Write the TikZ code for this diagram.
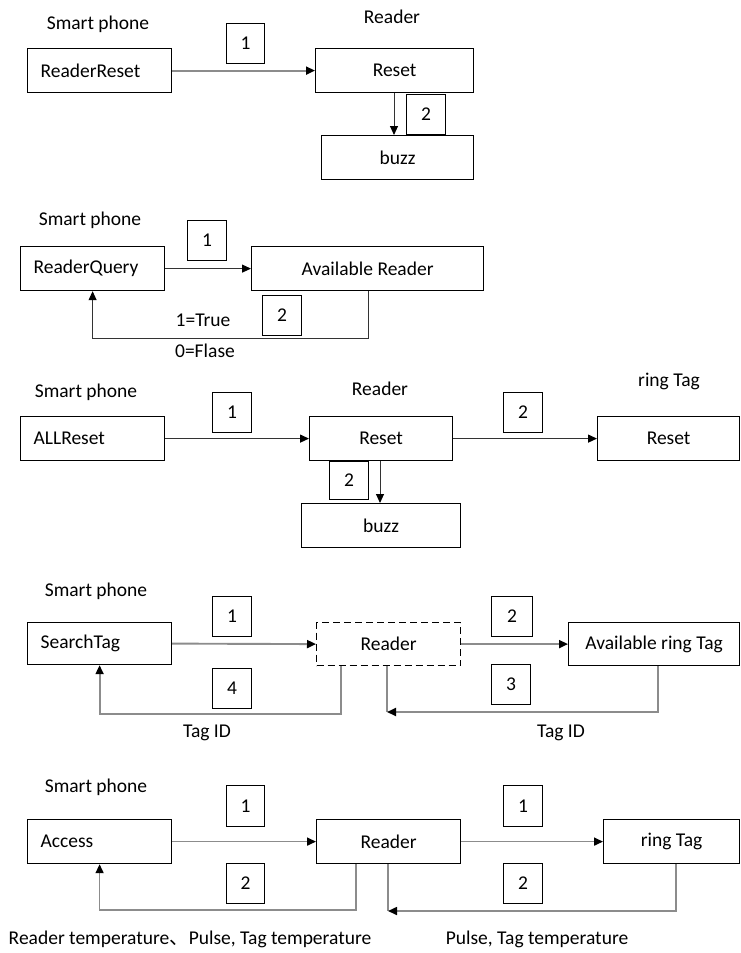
\documentclass[tikz,border=0pt]{standalone}
\usepackage{fontspec}
\setmainfont{Carlito}
\newfontfamily\cjkf{Noto Sans CJK SC}
\usetikzlibrary{arrows.meta}
\tikzset{
  base/.style={font=\fontsize{19.5}{22}\selectfont, text=black},
  box/.style={base, draw=black, line width=1.2pt, inner sep=0pt, minimum height=44pt, anchor=north west},
  lbox/.style={box, inner xsep=13pt, align=left},
  numbox/.style={base, draw=black, line width=1.2pt, inner sep=0pt, minimum width=39pt, minimum height=40pt, anchor=north west},
  lab/.style={base, inner sep=0pt},
  tip/.style={-{Triangle[length=9pt,width=8pt,color=black]}},
  gline/.style={draw=black!45, line width=1.9pt},
  dline/.style={draw=black!80, line width=1pt},
}
\begin{document}
\begin{tikzpicture}[x=1pt,y=-1pt]
\useasboundingbox[fill=white] (0,0) rectangle (740,953);

% ---------- Section 1 ----------
\node[lab] (sp1) at (98,24) {Smart phone};
\node[lab] (rl1) at (392,17) {Reader};
\node[lbox, text width=118pt] (rr1) at (27,48) {ReaderReset};
\node[box, minimum width=158pt] (rs1) at (315,48) {Reset};
\node[box, minimum width=152pt] (bz1) at (321,135) {buzz};
\node[numbox, minimum width=38pt] (n11) at (226,23) {1};
\node[numbox] (n12) at (406,94) {2};
\draw[gline, tip] (rr1.east) -- (rs1.west);
\draw[dline, tip] ([xshift=79pt]rs1.south west) -- ([xshift=73pt]bz1.north west);

% ---------- Section 2 ----------
\node[lab] (sp2) at (90,220) {Smart phone};
\node[lbox, text width=118pt] (rq) at (20,246) {ReaderQuery};
\node[box, minimum width=232pt] (ar) at (251,246) {Available Reader};
\node[numbox] (n21) at (187,220) {1};
\node[numbox] (n22) at (262,295) {2};
\node[lab] (tr) at (203,320) {1=True};
\node[lab] (fl) at (205,351) {0=Flase};
\draw[dline, tip] (rq.east) -- (ar.west);
\draw[dline, tip] ([xshift=117pt]ar.south west) |- ([yshift=-47pt]rq.south) -- (rq.south);

% ---------- Section 3 ----------
\node[lab] (sp3) at (86,392) {Smart phone};
\node[lab] (rl3) at (380,389) {Reader};
\node[lab] (tl3) at (669,381) {ring Tag};
\node[lbox, text width=118pt] (al) at (20,416) {ALLReset};
\node[box, minimum width=143pt] (rd3) at (309,416) {Reset};
\node[box, minimum width=142pt] (tg3) at (597,416) {Reset};
\node[box, minimum width=159pt] (bz3) at (301,503) {buzz};
\node[numbox] (n31) at (212,392) {1};
\node[numbox] (n32) at (503,392) {2};
\node[numbox, minimum height=38pt] (n33) at (329,461) {2};
\draw[dline, line width=1.3pt, tip] (al.east) -- (rd3.west);
\draw[dline, line width=1.3pt, tip] (rd3.east) -- (tg3.west);
\draw[dline, tip] ([xshift=71pt]rd3.south west) -- ([xshift=79pt]bz3.north west);

% ---------- Section 4 ----------
\node[lab] (sp4) at (96,591) {Smart phone};
\node[lbox, text width=118pt, minimum height=42pt] (st) at (27,622) {SearchTag};
\node[box, minimum width=144pt, minimum height=43pt, dash pattern=on 7pt off 4pt] (rd4) at (316,622) {Reader};
\node[box, minimum width=171pt, minimum height=43pt] (at4) at (568,622) {Available ring Tag};
\node[numbox] (n41) at (212,596) {1};
\node[numbox, minimum width=41pt] (n42) at (491,596) {2};
\node[numbox] (n44) at (212,668) {4};
\node[numbox] (n43) at (491,664) {3};
\node[lab] (ti1) at (207,733) {Tag ID};
\node[lab] (ti2) at (561,733) {Tag ID};
\coordinate (j4) at (387,712);
\draw[gline, tip] (st.east) -- (rd4.west);
\draw[gline, tip] (rd4.east) -- (at4.west);
\draw[gline, tip] ([xshift=25pt]rd4.south west) |- ([yshift=-49pt]st.south) -- (st.south);
\draw[gline] ([xshift=71pt]rd4.south west) -- (j4);
\draw[gline, tip] ([xshift=90pt]at4.south west) |- (j4);

% ---------- Section 5 ----------
\node[lab] (sp5) at (96,787) {Smart phone};
\node[lbox, text width=118pt] (ac) at (27,819) {Access};
\node[box, minimum width=144pt] (rd5) at (316,819) {Reader};
\node[box, minimum width=136pt] (tg5) at (603,819) {ring Tag};
\node[numbox, minimum width=38pt, minimum height=41pt] (n51) at (226,785) {1};
\node[numbox, minimum height=41pt] (n52) at (503,785) {1};
\node[numbox, minimum width=38pt] (n53) at (226,863) {2};
\node[numbox] (n54) at (503,863) {2};
\node[lab] (bt1) at (190,939) {Reader temperature{\cjkf 、}Pulse, Tag temperature};
\node[lab] (bt2) at (537,939) {Pulse, Tag temperature};
\coordinate (j5) at (388,911);
\draw[gline, line width=1.6pt, tip] (ac.east) -- (rd5.west);
\draw[gline, line width=1.6pt, tip] (rd5.east) -- (tg5.west);
\draw[gline, line width=1.6pt, tip] ([xshift=40pt]rd5.south west) |- ([yshift=-46pt]ac.south) -- (ac.south);
\draw[gline, line width=1.6pt] ([xshift=72pt]rd5.south west) -- (j5);
\draw[gline, line width=1.6pt, tip] ([xshift=73pt]tg5.south west) |- (j5);
\end{tikzpicture}
\end{document}
